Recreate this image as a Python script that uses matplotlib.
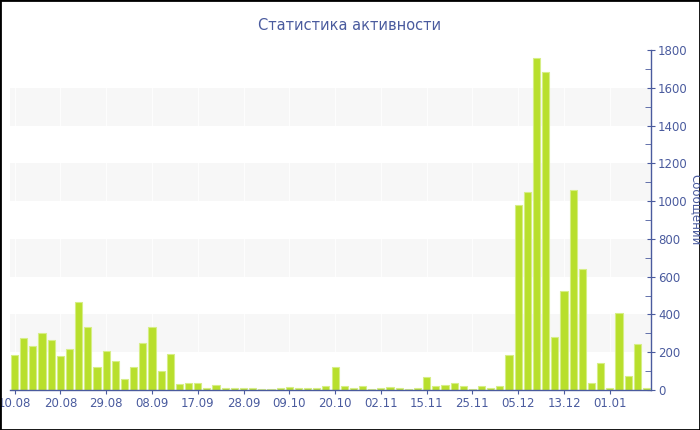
import numpy as np
import matplotlib
matplotlib.use("Agg")
import matplotlib.pyplot as plt
from matplotlib.patches import Rectangle

# messages per period (bars, left to right)
values = [185, 277, 231, 303, 265, 182, 217, 466, 334, 122,
          206, 155, 58, 123, 250, 334, 102, 189, 32, 37,
          37, 12, 26, 9, 10, 10, 10, 7, 5, 8,
          15, 10, 10, 10, 21, 122, 21, 9, 21, 7,
          9, 14, 10, 5, 10, 67, 21, 26, 35, 21,
          7, 21, 10, 21, 183, 981, 1050, 1756, 1682, 282,
          526, 1060, 641, 38, 142, 8, 406, 74, 245, 9]
tick_labels = ["10.08", "20.08", "29.08", "08.09", "17.09", "28.09", "09.10",
               "20.10", "02.11", "15.11", "25.11", "05.12", "13.12", "01.01"]
title = "Статистика активности"
ylabel = "Сообщений"

text_col = "#4a5b9e"
bar_col = "#b8df2c"
edge_col = "#d6ee86"
band_col = "#f7f7f7"

fig = plt.figure(figsize=(7, 4.3), dpi=100)
ax = fig.add_axes([10 / 700, 40 / 430, 641 / 700, 340 / 430])

x = np.arange(len(values))
ax.set_xlim(-0.5, len(values) - 0.5)
ax.set_ylim(0, 1800)

# alternating background bands
for lo in range(200, 1800, 400):
    ax.axhspan(lo, lo + 200, color=band_col, zorder=0, lw=0)

tick_pos = x[::5][:len(tick_labels)]
for p in tick_pos:
    ax.axvline(p, color="white", lw=0.6, zorder=0.5)

ax.bar(x, values, width=0.78, color=bar_col, edgecolor=edge_col, linewidth=0.8, zorder=2)

ax.set_xticks(tick_pos)
ax.set_xticklabels(tick_labels)
ax.yaxis.tick_right()
ax.yaxis.set_label_position("right")
ax.set_yticks(np.arange(0, 1801, 200))
ax.set_yticks(np.arange(100, 1800, 200), minor=True)

for s in ["top", "left"]:
    ax.spines[s].set_visible(False)
for s in ["bottom", "right"]:
    ax.spines[s].set_color(text_col)
    ax.spines[s].set_linewidth(1.0)

ax.tick_params(axis="x", colors=text_col, labelsize=8.5, length=3, pad=2)
ax.tick_params(axis="y", which="major", colors=text_col, labelsize=8.5,
               direction="inout", length=6, pad=2)
ax.tick_params(axis="y", which="minor", colors=text_col, direction="in", length=4)

fig.text(0.5, 1 - 25 / 430, title, ha="center", va="center", fontsize=10.5, color=text_col)
fig.text(696 / 700, 220 / 430, ylabel, ha="center", va="center",
         rotation=270, fontsize=8.5, color=text_col)

# outer border
fig.patches.append(Rectangle((0, 0), 1, 1, transform=fig.transFigure, fill=False,
                             edgecolor="black", linewidth=2))

fig.savefig("out.png", dpi=100)
